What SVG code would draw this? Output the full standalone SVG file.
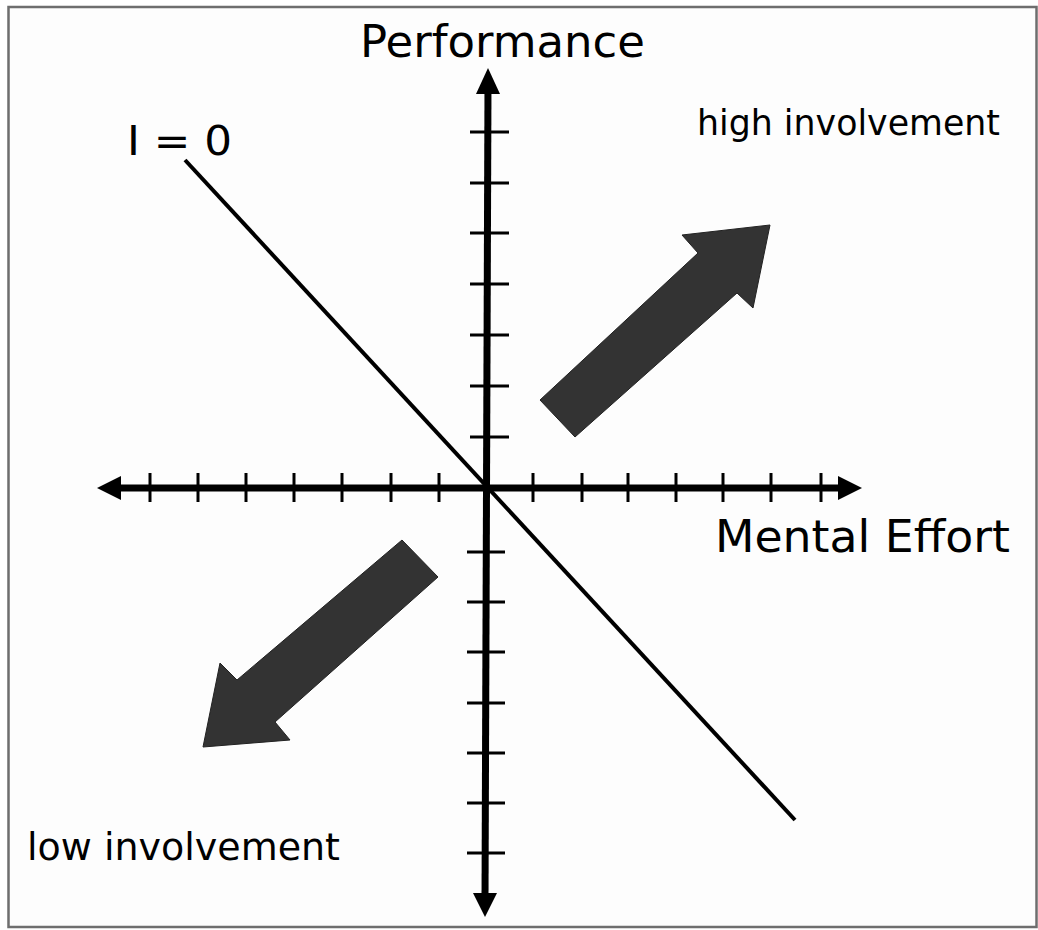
<svg xmlns="http://www.w3.org/2000/svg" width="1038" height="930" viewBox="0 0 1038 930">
<style>
.axis{stroke:#000;stroke-width:7;fill:none}
.tick{stroke:#000;stroke-width:3;fill:none}
.diag{stroke:#000;stroke-width:4;fill:none}
.head{fill:#000}
.big{fill:#333;stroke:#222;stroke-width:1}
.t{font-family:"DejaVu Sans","Liberation Sans",sans-serif;fill:#000}
</style>
<rect x="0" y="0" width="1038" height="930" fill="#fff"/>
<rect x="8.5" y="7" width="1028" height="920" fill="#fdfdfd" stroke="#6e6e6e" stroke-width="2.5"/>
<g id="connectors">
<g id="x-axis">
<line class="axis" x1="112" y1="488" x2="846" y2="488"/>
<polygon class="head" points="97,488 121,476 121,500"/>
<polygon class="head" points="862,488 838,476 838,500"/>
<g class="tick">
<line x1="150" y1="473" x2="150" y2="502"/><line x1="198" y1="473" x2="198" y2="502"/><line x1="246" y1="473" x2="246" y2="502"/><line x1="294" y1="473" x2="294" y2="502"/><line x1="342" y1="473" x2="342" y2="502"/><line x1="391" y1="473" x2="391" y2="502"/><line x1="439" y1="473" x2="439" y2="502"/>
<line x1="533" y1="473" x2="533" y2="502"/><line x1="582" y1="473" x2="582" y2="502"/><line x1="628" y1="473" x2="628" y2="502"/><line x1="676" y1="473" x2="676" y2="502"/><line x1="723" y1="473" x2="723" y2="502"/><line x1="771" y1="473" x2="771" y2="502"/><line x1="821" y1="473" x2="821" y2="502"/>
</g>
</g>
<g id="y-axis">
<line class="axis" x1="488" y1="85" x2="485" y2="900"/>
<polygon class="head" points="488,68 476,94 500,94"/>
<polygon class="head" points="485,917 473,893 497,893"/>
<g class="tick">
<line x1="470" y1="132" x2="509" y2="132"/><line x1="470" y1="183" x2="509" y2="183"/><line x1="470" y1="233" x2="509" y2="233"/><line x1="470" y1="284" x2="509" y2="284"/><line x1="470" y1="335" x2="509" y2="335"/><line x1="470" y1="386" x2="509" y2="386"/><line x1="470" y1="437" x2="509" y2="437"/>
<line x1="467" y1="552" x2="505" y2="552"/><line x1="467" y1="602" x2="505" y2="602"/><line x1="467" y1="652" x2="505" y2="652"/><line x1="467" y1="703" x2="505" y2="703"/><line x1="467" y1="753" x2="505" y2="753"/><line x1="467" y1="803" x2="505" y2="803"/><line x1="467" y1="853" x2="505" y2="853"/>
</g>
</g>
<line id="i0-line" class="diag" x1="185" y1="160" x2="795" y2="820"/>
</g>
<g id="arrow-high">
<polygon class="big" points="540,400 698,253 682,235 770,225 753,308 737,293 575,437"/>
</g>
<g id="arrow-low">
<polygon class="big" points="402,540 438,577 275,722 290,740 203,747 220,663 237,680"/>
</g>
<g id="label-performance"><text class="t" x="360" y="57" font-size="45" textLength="285" lengthAdjust="spacingAndGlyphs">Performance</text></g>
<g id="label-i0"><text class="t" x="127" y="155" font-size="40" textLength="105" lengthAdjust="spacingAndGlyphs">I = 0</text></g>
<g id="label-high"><text class="t" x="697" y="135" font-size="35" textLength="303" lengthAdjust="spacingAndGlyphs">high involvement</text></g>
<g id="label-effort"><text class="t" x="715" y="552" font-size="45" textLength="295" lengthAdjust="spacingAndGlyphs">Mental Effort</text></g>
<g id="label-low"><text class="t" x="27" y="860" font-size="37" textLength="313" lengthAdjust="spacingAndGlyphs">low involvement</text></g>
</svg>
